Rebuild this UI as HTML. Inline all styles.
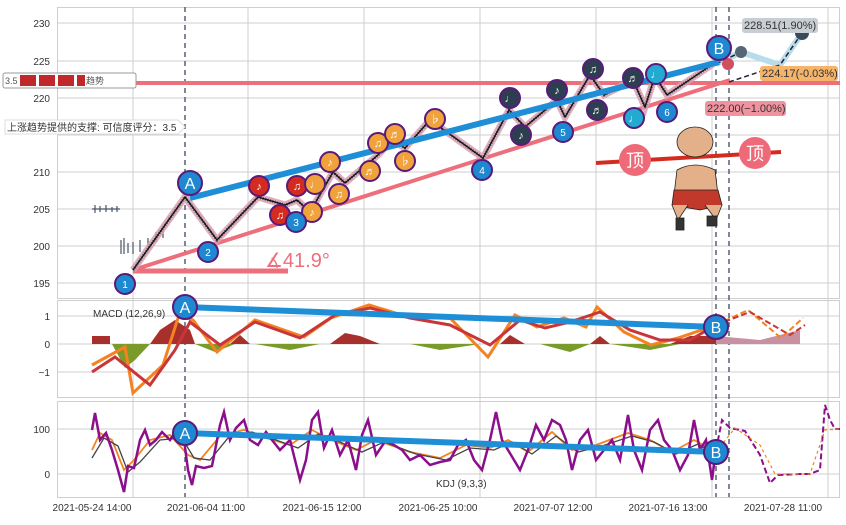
<!DOCTYPE html>
<html><head><meta charset="utf-8"><style>
body{margin:0;background:#fff;width:846px;height:520px;overflow:hidden;font-family:"Liberation Sans","Noto Sans CJK SC",sans-serif}
svg text{font-family:"Liberation Sans","Noto Sans CJK SC",sans-serif}
</style></head><body>
<svg width="846" height="520" viewBox="0 0 846 520" xmlns="http://www.w3.org/2000/svg">
<!-- panels -->
<g fill="none" stroke="#cfcfcf" stroke-width="1">
<rect x="57.5" y="7.5" width="782" height="291"/>
<rect x="57.5" y="300.5" width="782" height="97"/>
<rect x="57.5" y="401.5" width="782" height="96"/>
<!-- horizontal grids main -->
<path d="M57 23H840M57 61H840M57 98H840M57 135H840M57 172H840M57 209H840M57 246H840M57 283H840"/>
<path d="M57 316H840M57 344H840M57 372H840"/>
<path d="M57 429H840M57 474H840"/>
<path d="M133 7V497M248 7V497M364 7V497M480 7V497M596 7V497M712 7V497M828 7V497"/>
</g>
<!-- y labels -->
<g font-size="10" fill="#333" text-anchor="end">
<text x="50" y="27">230</text><text x="50" y="65">225</text><text x="50" y="102">220</text>
<text x="50" y="176">210</text><text x="50" y="213">205</text><text x="50" y="250">200</text><text x="50" y="287">195</text>
<text x="50" y="320">1</text><text x="50" y="348">0</text><text x="50" y="376">−1</text>
<text x="50" y="433">100</text><text x="50" y="478">0</text>
</g>
<g font-size="10" fill="#333" text-anchor="middle">
<text x="92" y="511">2021-05-24 14:00</text><text x="206" y="511">2021-06-04 11:00</text>
<text x="322" y="511">2021-06-15 12:00</text><text x="438" y="511">2021-06-25 10:00</text>
<text x="553" y="511">2021-07-07 12:00</text><text x="668" y="511">2021-07-16 13:00</text>
<text x="783" y="511">2021-07-28 11:00</text>
</g>
<!-- dashed verticals -->
<g stroke="#556070" stroke-width="1.5" stroke-dasharray="5,4">
<path d="M185 7V497M716 7V497M729 7V497"/>
</g>
<!-- pink lines -->
<path d="M57 83H840" stroke="#ee6f7c" stroke-width="4"/>
<path d="M133 270L730 80" stroke="#ee6f7c" stroke-width="4"/>
<path d="M133 271H288" stroke="#ee6f7c" stroke-width="5"/>
<text x="265" y="267" font-size="20" fill="#ee6f7c">∡41.9°</text>
<!-- candles isolated -->
<g stroke="#4a5568" stroke-width="1.2">
<path d="M92 209h28M95 205v8M100 206v6M106 205v7M112 207v5M117 206v6M121 240v14M124 238v16M128 243v10M133 242v12M140 240v12M148 238v10M156 232v10M163 230v8"/>
</g>
<!-- wave -->
<path d="M133 270L185 197L217 240L258 197L285 205L297 200L310 212L333 172L345 183L378 155L392 140L405 148L430 120L483 158L509 110L525 127L557 100L565 117L590 75L604 95L633 80L645 107L655 76L667 95L713 64" fill="none" stroke="#d9a0b0" stroke-width="7" opacity="0.85"/>
<path d="M133 270L185 197L217 240L258 197L285 205L297 200L310 212L333 172L345 183L378 155L392 140L405 148L430 120L483 158L509 110L525 127L557 100L565 117L590 75L604 95L633 80L645 107L655 76L667 95L713 64" fill="none" stroke="#4a5568" stroke-width="3" stroke-dasharray="1,1.5"/>
<path d="M133 270L185 197L217 240L258 197L285 205L297 200L310 212L333 172L345 183L378 155L392 140L405 148L430 120L483 158L509 110L525 127L557 100L565 117L590 75L604 95L633 80L645 107L655 76L667 95L713 64" fill="none" stroke="#111" stroke-width="1.3"/>
<!-- projection -->
<path d="M716 64L741 52L780 65L802 33" fill="none" stroke="#b8dcec" stroke-width="6"/>
<path d="M729 82L780 65L802 33M716 64L741 52" fill="none" stroke="#223" stroke-width="1.5" stroke-dasharray="5,3"/>
<circle cx="741" cy="52" r="6" fill="#556677"/><circle cx="728" cy="64" r="6" fill="#d05060"/><circle cx="802" cy="33" r="7" fill="#3a4a5c"/>
<!-- blue trend -->
<path d="M190 198L719 62" stroke="#1e8fd6" stroke-width="6"/>
<!-- red bar / top -->
<path d="M596 163L781 152" stroke="#d42a20" stroke-width="4"/>
<circle cx="635" cy="160" r="16" fill="#ef6a78"/><text x="635" y="167" font-size="18" fill="#fff" text-anchor="middle">顶</text>
<circle cx="755" cy="153" r="16" fill="#ef6a78"/><text x="755" y="160" font-size="18" fill="#fff" text-anchor="middle">顶</text>
<!-- dog -->
<g stroke="#222" stroke-width="0.8">
<ellipse cx="695" cy="142" rx="18" ry="15" fill="#e3b08a"/>
<path d="M677 170Q695 160 715 170L718 195L674 195Z" fill="#e3b08a"/>
<path d="M674 190L718 190L722 205L700 210L672 205Z" fill="#c0392b"/>
<path d="M672 205L678 220L688 205M722 205L716 220L705 205" fill="#e3b08a"/>
<rect x="676" y="218" width="8" height="12" fill="#333"/><rect x="707" y="216" width="10" height="10" fill="#333"/>
</g>
<!-- circles -->
<g stroke="#5a1a7a" stroke-width="2" font-size="11" text-anchor="middle">
<circle cx="259" cy="186" r="10" fill="#d42a20"/><circle cx="297" cy="186" r="10" fill="#d42a20"/><circle cx="280" cy="215" r="10" fill="#d42a20"/>
<circle cx="315" cy="184" r="10" fill="#f0a23c"/><circle cx="312" cy="212" r="10" fill="#f0a23c"/><circle cx="330" cy="162" r="10" fill="#f0a23c"/>
<circle cx="339" cy="194" r="10" fill="#f0a23c"/><circle cx="370" cy="171" r="10" fill="#f0a23c"/><circle cx="378" cy="143" r="10" fill="#f0a23c"/>
<circle cx="395" cy="134" r="10" fill="#f0a23c"/><circle cx="405" cy="161" r="10" fill="#f0a23c"/><circle cx="435" cy="119" r="10" fill="#f0a23c"/>
<circle cx="510" cy="98" r="10" fill="#2d3e50"/><circle cx="521" cy="135" r="10" fill="#2d3e50"/><circle cx="557" cy="90" r="10" fill="#2d3e50"/>
<circle cx="593" cy="69" r="10" fill="#2d3e50"/><circle cx="597" cy="110" r="10" fill="#2d3e50"/><circle cx="633" cy="78" r="10" fill="#2d3e50"/>
<circle cx="656" cy="74" r="10" fill="#22aad0"/><circle cx="634" cy="118" r="10" fill="#22aad0"/>
<circle cx="125" cy="284" r="10" fill="#1e88d0"/><circle cx="208" cy="252" r="10" fill="#1e88d0"/><circle cx="296" cy="222" r="10" fill="#1e88d0"/>
<circle cx="482" cy="170" r="10" fill="#1e88d0"/><circle cx="563" cy="132" r="10" fill="#1e88d0"/><circle cx="667" cy="112" r="10" fill="#1e88d0"/>
<circle cx="190" cy="183" r="12" fill="#1e88d0"/><circle cx="719" cy="48" r="12" fill="#1e88d0"/>
</g>
<g fill="#fff" font-size="11" text-anchor="middle">
<text x="259" y="190">♪</text><text x="297" y="190">♫</text><text x="280" y="219">♫</text><text x="315" y="188">♩</text><text x="312" y="216">♪</text>
<text x="330" y="166">♪</text><text x="339" y="198">♫</text><text x="370" y="175">♬</text><text x="378" y="147">♫</text><text x="395" y="138">♬</text>
<text x="405" y="165">♭</text><text x="435" y="123">♭</text><text x="510" y="102">♩</text><text x="521" y="139">♪</text><text x="557" y="94">♪</text>
<text x="593" y="73">♫</text><text x="597" y="114">♬</text><text x="633" y="82">♬</text><text x="656" y="78">♩</text><text x="634" y="122">♩</text>
<text x="125" y="288" font-size="10">1</text><text x="208" y="256" font-size="10">2</text><text x="296" y="226" font-size="10">3</text>
<text x="482" y="174" font-size="10">4</text><text x="563" y="136" font-size="10">5</text><text x="667" y="116" font-size="10">6</text>
<text x="190" y="189" font-size="16">A</text><text x="719" y="54" font-size="16">B</text>
</g>
<!-- price labels -->
<rect x="742" y="18" width="76" height="15" rx="3" fill="#c8ced4"/><text x="744" y="29" font-size="11" fill="#333">228.51(1.90%)</text>
<rect x="760" y="66" width="78" height="15" rx="3" fill="#f5b46a"/><text x="762" y="77" font-size="11" fill="#333">224.17(-0.03%)</text>
<rect x="705" y="101" width="81" height="15" rx="3" fill="#f1939e"/><text x="707" y="112" font-size="11" fill="#333">222.00(−1.00%)</text>
<!-- tags -->
<rect x="3" y="73" width="133" height="15" rx="2" fill="#fff" stroke="#999"/>
<text x="5" y="84" font-size="9" fill="#555">3.5</text>
<rect x="20" y="75" width="16" height="11" fill="#c0282a"/><rect x="39" y="75" width="16" height="11" fill="#c0282a"/><rect x="58" y="75" width="16" height="11" fill="#c0282a"/><rect x="77" y="75" width="8" height="11" fill="#c0282a"/>
<text x="86" y="84" font-size="9" fill="#555">趋势</text>
<path d="M5 120H178L185 127L178 134H5Z" fill="#fff" stroke="#ddd"/>
<text x="7" y="131" font-size="10" fill="#333">上涨趋势提供的支撑: 可信度评分：3.5</text>
<!-- MACD -->
<text x="93" y="317" font-size="10" fill="#333">MACD (12,26,9)</text>
<path d="M92 344V336H110V344ZM150 344L160 330L175 320L190 330L195 344ZM230 344L240 335L250 344ZM330 344L345 333L360 336L380 344ZM500 344L510 335L525 344ZM590 344L600 336L610 344ZM670 344L690 336L716 336V344Z" fill="#a8302c"/>
<path d="M716 344V336L760 340L800 330V344Z" fill="#c890a0"/>
<path d="M112 344L125 368L135 360L150 344ZM195 344L215 352L235 344ZM255 344L290 350L320 344ZM410 344L440 350L480 344ZM540 344L570 352L590 344ZM610 344L650 350L680 344Z" fill="#7a9a2a"/>
<path d="M92 365L125 347L133 393L163 365L179 315L193 320L217 352L255 320L304 337L331 318L369 305L412 318L450 318L488 357L515 315L537 327L564 318L586 327L597 307L624 332L651 345L678 338L716 325" fill="none" stroke="#f58220" stroke-width="3"/>
<path d="M92 372L115 357L150 385L175 350L190 322L220 345L255 322L300 338L335 315L370 308L410 318L450 325L490 345L520 320L545 328L570 322L600 312L630 330L660 340L690 340L716 325" fill="none" stroke="#c8363a" stroke-width="3"/>
<path d="M716 325L748 310L781 338L803 318" fill="none" stroke="#f58220" stroke-width="2" stroke-dasharray="6,3"/>
<path d="M716 325L750 312L790 335L805 325" fill="none" stroke="#c8363a" stroke-width="2" stroke-dasharray="6,3"/>
<path d="M185 307L716 327" stroke="#1e8fd6" stroke-width="6"/>
<circle cx="185" cy="307" r="12" fill="#1e88d0" stroke="#5a1a7a" stroke-width="2"/><text x="185" y="313" font-size="16" fill="#fff" text-anchor="middle">A</text>
<circle cx="716" cy="327" r="12" fill="#1e88d0" stroke="#5a1a7a" stroke-width="2"/><text x="716" y="333" font-size="16" fill="#fff" text-anchor="middle">B</text>
<!-- KDJ -->
<path d="M92 450L100 433L112 440L124 470L134 460L150 440L170 435L188 455L200 460L220 436L244 430L266 438L290 445L312 430L332 440L356 450L376 440L410 452L440 458L466 445L490 448L508 440L528 452L552 432L572 450L596 445L628 433L650 440L672 452L694 440L716 452" fill="none" stroke="#f58220" stroke-width="1.8"/>
<path d="M92 458L104 438L118 446L128 472L140 462L160 440L182 438L194 458L210 460L228 438L252 432L276 440L298 448L318 434L340 442L362 452L384 442L416 454L446 460L470 448L494 450L512 442L532 454L556 436L578 452L602 446L632 436L654 442L676 454L698 444L716 455" fill="none" stroke="#444" stroke-width="1.3"/>
<path d="M92 430L95 413L100 440L106 433L112 450L118 470L124 492L128 466L134 468L140 440L145 430L150 445L156 440L162 432L170 440L178 428L183 432L188 470L192 485L196 466L204 468L212 466L220 425L224 412L230 440L236 428L244 420L250 440L258 445L266 432L272 440L280 450L290 440L300 480L306 460L312 420L318 412L324 448L332 430L340 455L348 440L356 470L362 435L368 420L376 455L386 440L394 445L402 450L410 460L420 455L430 465L440 462L450 460L458 445L466 440L474 460L482 470L490 440L496 412L502 440L508 450L514 460L520 470L528 450L536 425L544 440L552 420L560 425L566 440L572 470L580 440L588 430L596 460L604 450L612 440L620 460L628 415L634 450L642 470L650 430L658 420L664 440L672 450L680 470L688 455L694 420L700 450L706 440L712 480L716 450" fill="none" stroke="#8b0f8b" stroke-width="2.5"/>
<path d="M716 450L722 420L730 428L745 431L760 455L770 483L778 475L800 474L810 474L820 470L825 405L830 420L835 429L840 429" fill="none" stroke="#8b0f8b" stroke-width="2" stroke-dasharray="6,3"/>
<path d="M716 452L735 428L760 445L775 474L810 474L825 430L840 429" fill="none" stroke="#f58220" stroke-width="1.2" stroke-dasharray="3,3"/>
<path d="M185 433L716 452" stroke="#1e8fd6" stroke-width="6"/>
<circle cx="185" cy="433" r="12" fill="#1e88d0" stroke="#5a1a7a" stroke-width="2"/><text x="185" y="439" font-size="16" fill="#fff" text-anchor="middle">A</text>
<circle cx="716" cy="452" r="12" fill="#1e88d0" stroke="#5a1a7a" stroke-width="2"/><text x="716" y="458" font-size="16" fill="#fff" text-anchor="middle">B</text>
<text x="436" y="487" font-size="10" fill="#333">KDJ (9,3,3)</text>
</svg>
</body></html>
